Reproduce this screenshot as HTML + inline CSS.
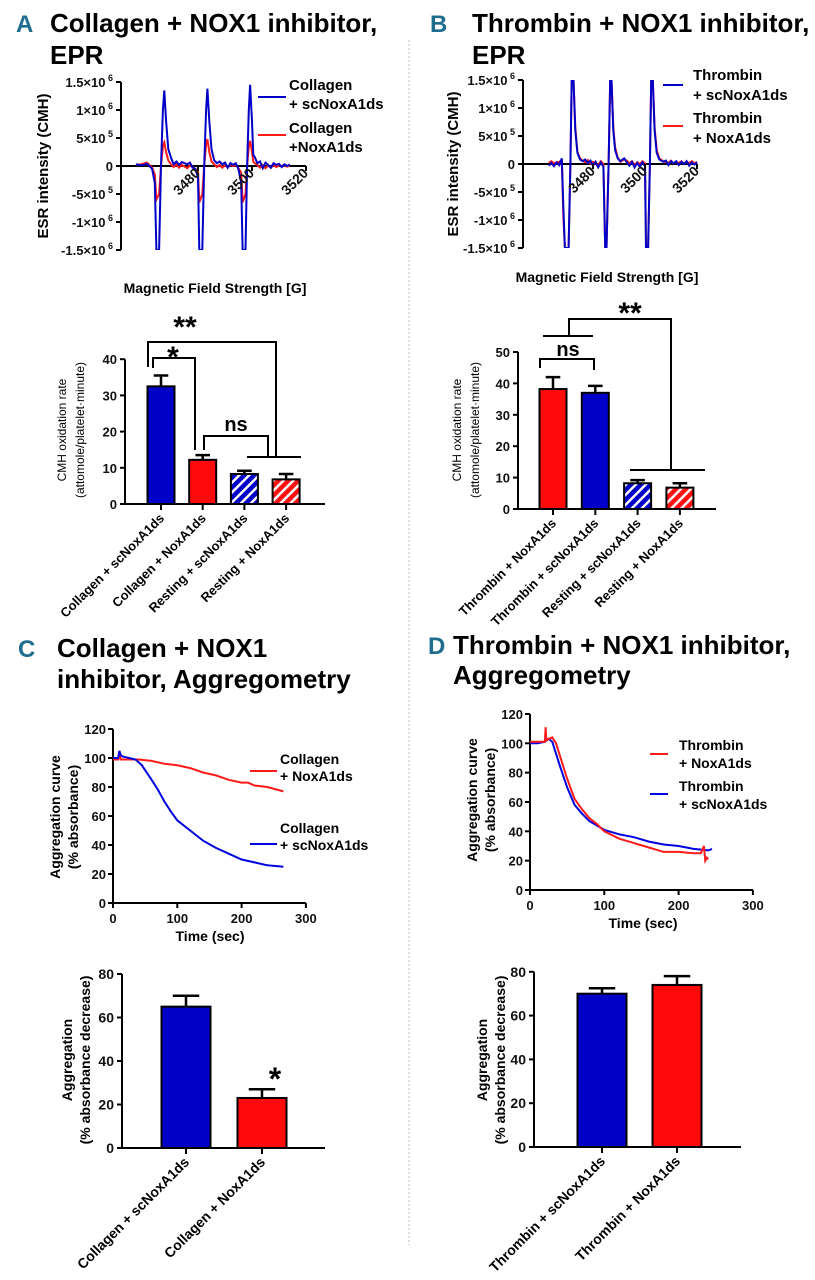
<!DOCTYPE html>
<html><head><meta charset="utf-8"><style>
html,body{margin:0;padding:0;background:#fff}
svg{display:block;font-family:"Liberation Sans",Arial,sans-serif}
.t{font-weight:bold;font-size:13px;fill:#111}
.h{font-weight:bold;font-size:26px;fill:#000}
.L{font-family:"Liberation Sans Narrow","Liberation Sans",sans-serif;font-weight:bold;font-size:24px;fill:#1e6d8e}
</style></head><body>
<svg id="fig" width="815" height="1280" viewBox="0 0 815 1280" xmlns="http://www.w3.org/2000/svg">
<defs>
<pattern id="hb" patternUnits="userSpaceOnUse" width="7" height="7" patternTransform="rotate(45)"><rect width="7" height="7" fill="#0000c8"/><rect width="2.5" height="7" fill="#fff"/></pattern>
<pattern id="hr" patternUnits="userSpaceOnUse" width="7" height="7" patternTransform="rotate(45)"><rect width="7" height="7" fill="#ff1010"/><rect width="2.5" height="7" fill="#fff"/></pattern>
<clipPath id="clipA"><rect x="121" y="82" width="200" height="168"/></clipPath>
<clipPath id="clipB"><rect x="523" y="80" width="200" height="168"/></clipPath>
</defs>
<line x1="409" y1="40" x2="409" y2="1245" stroke="#bbb" stroke-dasharray="2,2" stroke-width="1"/>
<text class="L" x="16" y="32">A</text>
<text class="h" x="50" y="32">Collagen + NOX1 inhibitor,</text>
<text class="h" x="50" y="64">EPR</text>
<text class="L" x="430" y="32">B</text>
<text class="h" x="472" y="32">Thrombin + NOX1 inhibitor,</text>
<text class="h" x="472" y="64">EPR</text>
<text class="L" x="18" y="657">C</text>
<text class="h" x="57" y="657">Collagen + NOX1</text>
<text class="h" x="57" y="688">inhibitor, Aggregometry</text>
<text class="L" x="428" y="654">D</text>
<text class="h" x="453" y="654">Thrombin + NOX1 inhibitor,</text>
<text class="h" x="453" y="684">Aggregometry</text>
<text font-weight="bold" font-size="15" text-anchor="middle" transform="translate(48,166) rotate(-90)">ESR intensity (CMH)</text>
<text font-weight="bold" font-size="14" text-anchor="middle" x="215" y="293">Magnetic Field Strength [G]</text>
<text font-weight="bold" font-size="15" text-anchor="middle" transform="translate(458,164) rotate(-90)">ESR intensity (CMH)</text>
<text font-weight="bold" font-size="14" text-anchor="middle" x="607" y="282">Magnetic Field Strength [G]</text>
<text font-size="12" text-anchor="middle" transform="translate(66,430) rotate(-90)">CMH oxidation rate</text>
<text font-size="12" text-anchor="middle" transform="translate(84,430) rotate(-90)">(attomole/platelet·minute)</text>
<text font-size="12" text-anchor="middle" transform="translate(461,430) rotate(-90)">CMH oxidation rate</text>
<text font-size="12" text-anchor="middle" transform="translate(479,430) rotate(-90)">(attomole/platelet·minute)</text>
<text font-weight="bold" font-size="14" text-anchor="middle" transform="translate(60,817) rotate(-90)">Aggregation curve</text>
<text font-weight="bold" font-size="14" text-anchor="middle" transform="translate(78,817) rotate(-90)">(% absorbance)</text>
<text font-weight="bold" font-size="14" text-anchor="middle" x="210" y="941">Time (sec)</text>
<text font-weight="bold" font-size="14" text-anchor="middle" transform="translate(477,800) rotate(-90)">Aggregation curve</text>
<text font-weight="bold" font-size="14" text-anchor="middle" transform="translate(495,800) rotate(-90)">(% absorbance)</text>
<text font-weight="bold" font-size="14" text-anchor="middle" x="643" y="928">Time (sec)</text>
<text font-weight="bold" font-size="14" text-anchor="middle" transform="translate(72,1060) rotate(-90)">Aggregation</text>
<text font-weight="bold" font-size="14" text-anchor="middle" transform="translate(90,1060) rotate(-90)">(% absorbance decrease)</text>
<text font-weight="bold" font-size="14" text-anchor="middle" transform="translate(487,1060) rotate(-90)">Aggregation</text>
<text font-weight="bold" font-size="14" text-anchor="middle" transform="translate(505,1060) rotate(-90)">(% absorbance decrease)</text>
<g font-weight="bold" font-size="15">
<line x1="258" y1="97" x2="286" y2="97" stroke="#0000c8" stroke-width="2"/><text x="289" y="90">Collagen</text><text x="289" y="109">+ scNoxA1ds</text>
<line x1="258" y1="135" x2="286" y2="135" stroke="#ff1a1a" stroke-width="2"/><text x="289" y="133">Collagen</text><text x="289" y="152">+NoxA1ds</text></g>
<g font-weight="bold" font-size="15">
<line x1="663" y1="85" x2="683" y2="85" stroke="#0000c8" stroke-width="2"/><text x="693" y="80">Thrombin</text><text x="693" y="100">+ scNoxA1ds</text>
<line x1="663" y1="126" x2="683" y2="126" stroke="#ff1a1a" stroke-width="2"/><text x="693" y="123">Thrombin</text><text x="693" y="143"> + NoxA1ds</text></g>
<g font-weight="bold" font-size="14">
<line x1="250" y1="771" x2="277" y2="771" stroke="#ff1a1a" stroke-width="2"/><text x="280" y="764">Collagen</text><text x="280" y="781">+ NoxA1ds</text>
<line x1="250" y1="844" x2="277" y2="844" stroke="#0000e0" stroke-width="2"/><text x="280" y="833">Collagen</text><text x="280" y="850">+ scNoxA1ds</text></g>
<g font-weight="bold" font-size="14">
<line x1="650" y1="754" x2="668" y2="754" stroke="#ff1a1a" stroke-width="2"/><text x="679" y="750">Thrombin</text><text x="679" y="768">+ NoxA1ds</text>
<line x1="650" y1="794" x2="668" y2="794" stroke="#0000e0" stroke-width="2"/><text x="679" y="791">Thrombin</text><text x="679" y="809">+ scNoxA1ds</text></g>
<g fill="none" stroke="#000" stroke-width="2">
<polyline points="148,367 148,342 276,342 276,457"/><line x1="247" y1="457" x2="301" y2="457"/>
<polyline points="153,368 153,358 195,358 195,450"/>
<polyline points="204,450 204,436 268,436 268,457"/></g>
<text font-weight="bold" font-size="30" x="185" y="337" text-anchor="middle">**</text>
<text font-weight="bold" font-size="30" x="173" y="367" text-anchor="middle">*</text>
<text font-weight="bold" font-size="20" x="236" y="431" text-anchor="middle">ns</text>
<g fill="none" stroke="#000" stroke-width="2">
<polyline points="569,336 569,319 671,319 671,470"/><line x1="543" y1="336" x2="593" y2="336"/><line x1="630" y1="470" x2="705" y2="470"/>
<polyline points="540,368 540,359 594,359 594,370"/></g>
<text font-weight="bold" font-size="30" x="630" y="323" text-anchor="middle">**</text>
<text font-weight="bold" font-size="20" x="568" y="356" text-anchor="middle">ns</text>
<text font-weight="bold" font-size="32" x="275" y="1090" text-anchor="middle">*</text>
</svg>
<script>
const fieldsA=[3457,3459,3461,3462,3463,3464,3464.6,3465.6,3466.3,3467,3467.5,3468.2,3469,3470,3471,3472,3473,3474,3476,3477,3478,3479,3480,3480.5,3481.6,3482.3,3483,3483.5,3484.2,3485,3486,3487,3488,3489,3490,3491,3492,3493,3494,3495,3496,3496.5,3497.6,3498.2,3498.8,3499.3,3500,3500.5,3501,3502,3503,3504,3505,3506,3507,3508,3509,3510,3511,3512,3513,3514];
const blueA=[0.3,0.1,0.4,0,-0.5,-3,-15,-15,0,10,13.5,8,3,1.5,0.3,0.8,0.2,0.7,0.3,0.6,-0.3,-0.5,-2,-15,-15,0,10,13.8,8,3,1,0.5,0.8,0.3,0.6,-0.3,0.5,0.2,0.5,-0.6,-3,-15,-15,0,10,14.5,8,2,1.6,0.5,0.8,-0.4,0.6,0.2,-0.3,0.5,0.2,0.4,-0.2,0.3,0,0.3];
const redA=[0.2,0.3,0.6,0.2,-0.3,-1.5,-6,-5,0,3.5,4.2,2.5,1,0.3,-0.2,0.3,-0.3,0.2,-0.4,0.1,-0.2,-0.5,-1,-6.5,-5,0,3.8,4.8,2.5,0.8,0.3,-0.2,0.2,-0.3,0.1,-0.2,0.3,0,0.2,-0.4,-1.2,-6.5,-5,0,3.5,4.5,2.5,0.8,0.5,0.2,-0.3,0.2,-0.4,0.1,-0.3,0.2,-0.2,0.1,0,0.1,-0.1,0.1];
const fieldsB=[3463,3464,3465,3466,3467,3468,3468.6,3469.2,3470.6,3471.3,3471.8,3472.5,3473.2,3474,3475,3476,3477,3478,3479,3480,3481,3482,3483,3484,3484.7,3485.2,3486,3486.6,3487.1,3487.8,3488.5,3489.5,3490.5,3492,3493,3494,3495,3496,3497,3498,3499,3500,3500.4,3501.2,3501.9,3502.4,3503,3503.7,3504.5,3505.5,3507,3508,3509,3510,3511,3512,3513,3514,3515,3516,3517,3518,3519,3520];
const blueB=[-0.3,0.2,-0.4,0.3,-0.2,1,-8,-15,-15,0,15,15,6,2,0.8,0.5,0.8,0.2,0.6,-0.3,0.4,-0.6,0.3,-0.5,-15,-15,0,15,15,6,2.5,1,0.5,1,0.3,-0.3,0.4,-0.6,0.2,-0.5,0.3,-0.4,-15,-15,0,15,15,6,2,0.8,0.4,0.6,-0.2,0.5,0.1,0.5,-0.2,0.4,0,0.5,-0.3,0.3,-0.1,0.3];
const redB=[0.2,0.5,0.1,0.3,0.4,0.6,-9.5,-15,-15,0,15,15,6.5,2.2,1,0.6,0.3,0.7,0.1,0.4,0.2,-0.2,0.5,0,-15,-15,0,15,15,6.5,3,1.2,0.4,0.8,0.6,0.1,0.5,-0.2,0.3,0,0.5,0.1,-15,-15,0,15,15,6.5,2.5,1,0.5,0.3,0.2,0.6,0.1,0.4,0.2,0.5,0.1,0.3,0.2,0.5,0.1,0.4];
const eprYTicks=[15,10,5,0,-5,-10,-15];
const eprYLabels=[["1.5×10","6"],["1×10","6"],["5×10","5"],["0",""],["-5×10","5"],["-1×10","6"],["-1.5×10","6"]];
const eprXTicks=[3480,3500,3520];
const catsA=["Collagen + scNoxA1ds","Collagen + NoxA1ds","Resting + scNoxA1ds","Resting + NoxA1ds"];
const valsA=[32.5,12.2,8.3,6.8];
const errA=[3,1.3,0.9,1.5];
const catsB=["Thrombin + NoxA1ds","Thrombin + scNoxA1ds","Resting + scNoxA1ds","Resting + NoxA1ds"];
const valsB=[38.2,37,8.2,6.8];
const errB=[3.8,2.2,1,1.4];
const ticksA=[0,10,20,30,40];
const ticksB=[0,10,20,30,40,50];
const catsC=["Collagen + scNoxA1ds","Collagen + NoxA1ds"];
const valsC=[65,23];
const errC=[5,4];
const catsD=["Thrombin + scNoxA1ds","Thrombin + NoxA1ds"];
const valsD=[70,74];
const errD=[2.5,4];
const ticks80=[0,20,40,60,80];
const timeCRed=[0,8,10,12,20,40,60,80,100,120,140,160,180,200,210,220,240,265];
const valCRed=[99,99,104,99,99,99,98,96,95,93,90,88,85,83,83,81,80,77];
const timeCBlue=[0,8,10,12,15,25,35,45,60,70,80,90,100,120,140,160,180,200,220,240,265];
const valCBlue=[100,100,105,102,101,100,99,95,85,78,70,63,57,50,43,38,34,30,28,26,25];
const timeDBlue=[0,10,20,25,30,35,40,50,60,70,80,90,100,120,140,160,180,200,220,240,245];
const valDBlue=[100,100,101,103,101,93,85,70,58,52,47,44,41,38,36,33,31,30,28,27,28];
const timeDRed=[0,10,20,21,22,25,30,35,40,50,60,70,80,90,100,120,140,160,180,200,220,230,234,236,238,240];
const valDRed=[101,101,101,111,102,103,104,100,92,76,62,55,49,45,40,35,32,29,26,26,25,25,30,20,22,21];
const lineTicksX=[0,100,200,300];
const lineTicksY=[0,20,40,60,80,100,120];

const NS="http://www.w3.org/2000/svg";
const fig=document.getElementById('fig');
function mk(tag,a){const e=document.createElementNS(NS,tag);for(const k in a)e.setAttribute(k,a[k]);fig.appendChild(e);return e;}

function drawEPR(p,fields,blue,red,tag){
  const x=g=>p.x0+(g-3480)*p.kx, y=v=>p.y0-v*5.6;
  let el=mk('line',{x1:p.ax,y1:y(15),x2:p.ax,y2:y(-15),stroke:'#000','stroke-width':2});
  
  
  eprYTicks.forEach((t,i)=>{
    let tk=mk('line',{x1:p.ax-5,y1:y(t),x2:p.ax,y2:y(t),stroke:'#000','stroke-width':2});
    
    
    let tx=mk('text',{x:p.ax-8,y:y(t)+5,'text-anchor':'end',class:'t'});
    
    
    tx.innerHTML=eprYLabels[i][0]+(eprYLabels[i][1]?'<tspan font-size="9" dy="-6"> '+eprYLabels[i][1]+'</tspan>':'');
  });
  el=mk('line',{x1:p.ax,y1:p.y0,x2:x(3520),y2:p.y0,stroke:'#000','stroke-width':2});
  
  
  const mkPath=(vals,col,nm)=>{
    let d=fields.map((g,i)=>(i?'L':'M')+x(g).toFixed(1)+','+y(vals[i]).toFixed(1)).join('');
    let pa=mk('path',{d:d,fill:'none',stroke:col,'stroke-width':2,'clip-path':'url(#'+p.clip+')'});
    
    
  };
  mkPath(red,'#ff1a1a',tag+'-red-spectrum');
  mkPath(blue,'#0000c8',tag+'-blue-spectrum');
  eprXTicks.forEach(t=>{
    let tk=mk('line',{x1:x(t),y1:p.y0,x2:x(t),y2:p.y0+5,stroke:'#000','stroke-width':2});
    
    
    let tx=mk('text',{'text-anchor':'end',class:'t',style:'font-size:14px',transform:'translate('+(x(t)+3)+','+(p.y0+8)+') rotate(-45)'});
    
    
    tx.textContent=t;
  });
}
drawEPR({x0:198,kx:2.7,y0:166,ax:121,clip:'clipA'},fieldsA,blueA,redA,'a-epr');
drawEPR({x0:593,kx:2.6,y0:164,ax:523,clip:'clipB'},fieldsB,blueB,redB,'b-epr');

function drawBars(p,cats,vals,errs,ticks,fills,tag){
  const y=v=>p.y0-v*p.ky;
  let el=mk('line',{x1:p.ax,y1:p.y0,x2:p.ax,y2:y(ticks[ticks.length-1]),stroke:'#000','stroke-width':2});
  
  
  el=mk('line',{x1:p.ax,y1:p.y0,x2:p.axEnd,y2:p.y0,stroke:'#000','stroke-width':2});
  
  
  ticks.forEach(t=>{
    let tk=mk('line',{x1:p.ax-5,y1:y(t),x2:p.ax,y2:y(t),stroke:'#000','stroke-width':2});
    
    
    let tx=mk('text',{x:p.ax-8,y:y(t)+5,'text-anchor':'end',class:'t',style:'font-size:'+p.fs+'px'});
    
    
    tx.textContent=t;
  });
  cats.forEach((c,i)=>{
    const cx=p.c0+i*p.step, w=p.bw;
    let eb=mk('path',{d:'M'+cx+','+y(vals[i])+'V'+y(vals[i]+errs[i])+'M'+(cx-w*0.27)+','+y(vals[i]+errs[i])+'H'+(cx+w*0.27),stroke:'#000','stroke-width':2.5,fill:'none'});
    
    
    let r=mk('rect',{x:cx-w/2,y:y(vals[i]),width:w,height:p.y0-y(vals[i]),fill:fills[i],stroke:'#000','stroke-width':2});
    
    
    let tk=mk('line',{x1:cx,y1:p.y0,x2:cx,y2:p.y0+6,stroke:'#000','stroke-width':2});
    
    
    let tx=mk('text',{'text-anchor':'end','font-size':p.lfs,'font-weight':'bold',transform:'translate('+(cx+4)+','+(p.y0+15)+') rotate(-45)'});
    
    
    tx.textContent=c;
  });
}
drawBars({ax:125,axEnd:325,y0:504,ky:3.62,c0:161,step:41.7,bw:27,fs:13,lfs:13},catsA,valsA,errA,ticksA,['#0000c8','#ff0a0a','url(#hb)','url(#hr)'],'a-bar');
drawBars({ax:518,axEnd:716,y0:509,ky:3.14,c0:553,step:42.3,bw:27,fs:13,lfs:13},catsB,valsB,errB,ticksB,['#ff0a0a','#0000c8','url(#hb)','url(#hr)'],'b-bar');
drawBars({ax:122,axEnd:325,y0:1148,ky:2.175,c0:186,step:76,bw:49,fs:14,lfs:14},catsC,valsC,errC,ticks80,['#0000c8','#ff0a0a'],'c-bar');
drawBars({ax:534,axEnd:741,y0:1147,ky:2.19,c0:602,step:75,bw:49,fs:14,lfs:14},catsD,valsD,errD,ticks80,['#0000c8','#ff0a0a'],'d-bar');

function drawLine(p,series,tag){
  const x=t=>p.ax+t*p.kx, y=v=>p.y0-v*p.ky;
  let el=mk('line',{x1:p.ax,y1:p.y0,x2:p.ax,y2:y(120),stroke:'#000','stroke-width':2});
  
  
  el=mk('line',{x1:p.ax,y1:p.y0,x2:x(300),y2:p.y0,stroke:'#000','stroke-width':2});
  
  
  lineTicksY.forEach(t=>{
    let tk=mk('line',{x1:p.ax-5,y1:y(t),x2:p.ax,y2:y(t),stroke:'#000','stroke-width':2});
    
    
    let tx=mk('text',{x:p.ax-7,y:y(t)+5,'text-anchor':'end',class:'t'});
    
    
    tx.textContent=t;
  });
  lineTicksX.forEach(t=>{
    let tk=mk('line',{x1:x(t),y1:p.y0,x2:x(t),y2:p.y0+5,stroke:'#000','stroke-width':2});
    
    
    let tx=mk('text',{x:x(t),y:p.y0+20,'text-anchor':'middle',class:'t'});
    
    
    tx.textContent=t;
  });
  series.forEach(s=>{
    let d=s.t.map((t,i)=>(i?'L':'M')+x(t).toFixed(1)+','+y(s.v[i]).toFixed(1)).join('');
    let pa=mk('path',{d:d,fill:'none',stroke:s.c,'stroke-width':2});
    
    
  });
}
drawLine({ax:113,kx:0.643,y0:903,ky:1.45},[{t:timeCRed,v:valCRed,c:'#ff1a1a',n:'c-noxa1ds-curve'},{t:timeCBlue,v:valCBlue,c:'#0000e0',n:'c-scnoxa1ds-curve'}],'c-line');
drawLine({ax:530,kx:0.743,y0:890,ky:1.467},[{t:timeDBlue,v:valDBlue,c:'#0000e0',n:'d-scnoxa1ds-curve'},{t:timeDRed,v:valDRed,c:'#ff1a1a',n:'d-noxa1ds-curve'}],'d-line');
</script>
</body></html>
